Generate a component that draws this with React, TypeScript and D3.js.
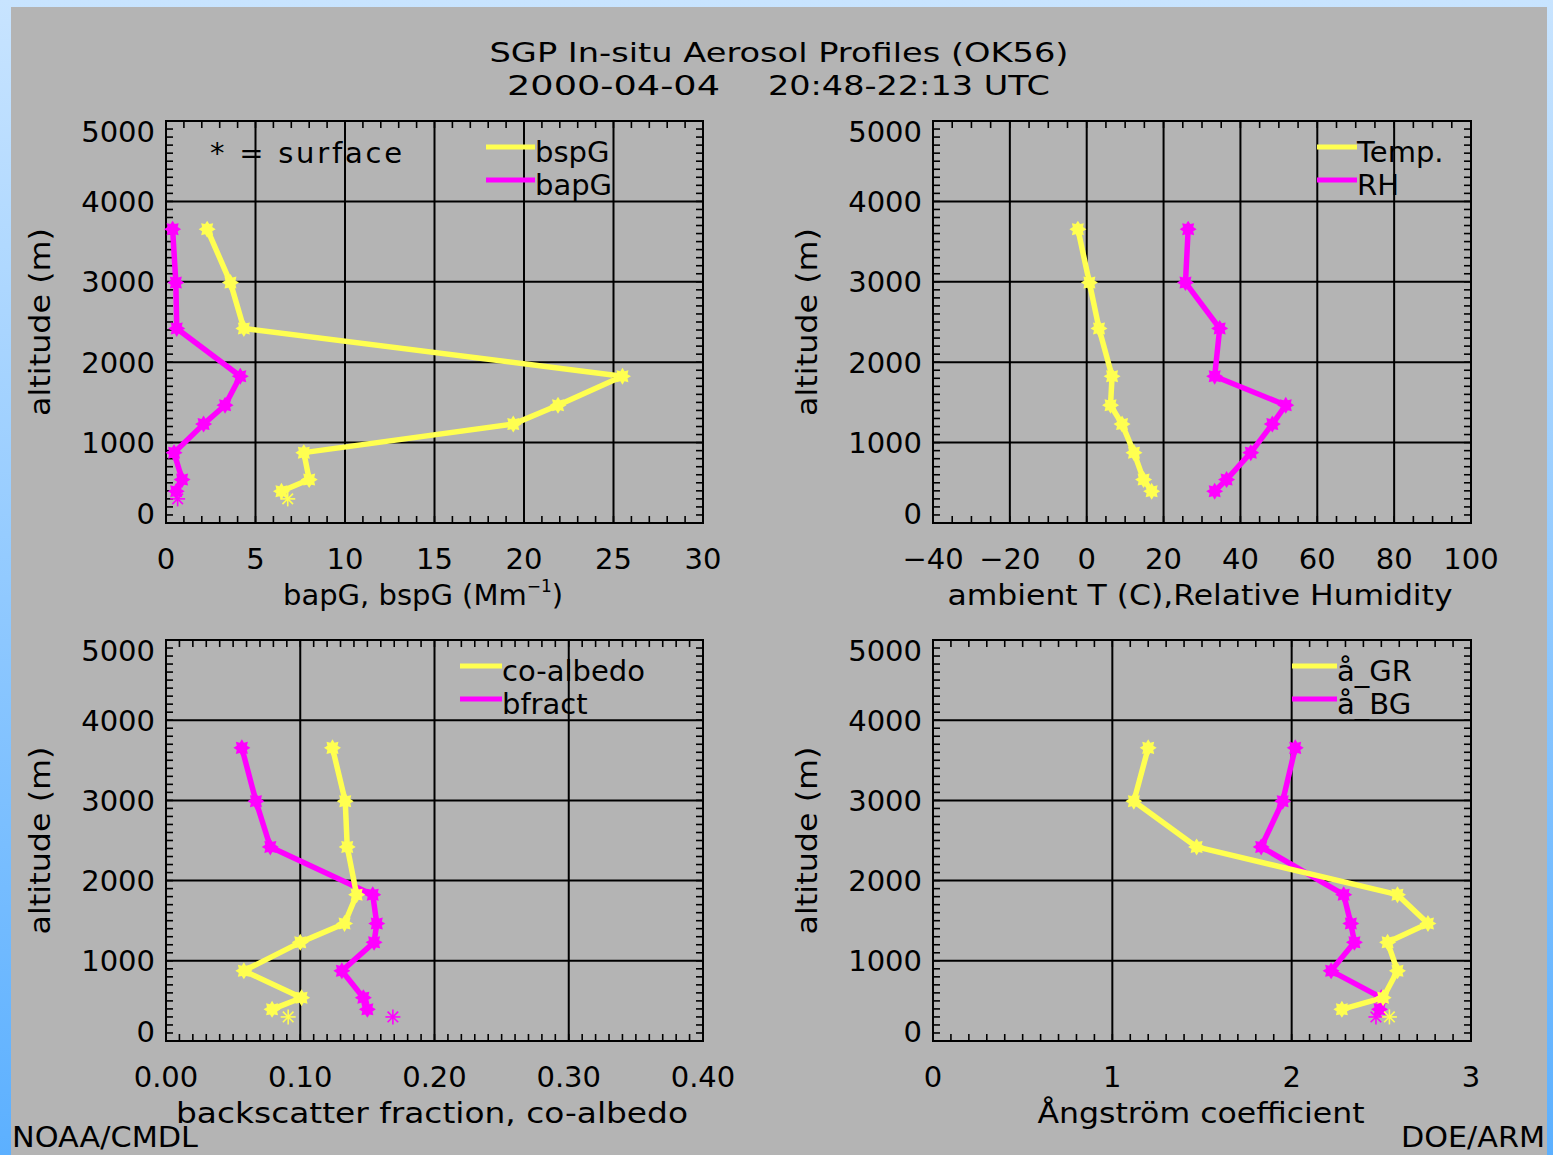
import React from "react";
import * as d3 from "d3";

// ---------- DATA ----------
const altitudes = [3655, 2990, 2420, 1825, 1465, 1230, 875, 540, 395];
const surfaceAltitude = 300;

const bspG = [2.3, 3.6, 4.35, 25.5, 21.9, 19.4, 7.7, 8.0, 6.45];
const bspGSurface = 6.8;
const bapG = [0.37, 0.55, 0.6, 4.15, 3.3, 2.1, 0.45, 0.9, 0.57];
const bapGSurface = 0.65;

const tempC = [-2.3, 0.7, 3.2, 6.6, 6.2, 9.2, 12.3, 14.8, 16.9];
const relHum = [26.4, 25.7, 34.6, 33.3, 51.8, 48.3, 42.7, 36.4, 33.3];

const coAlbedo = [0.124, 0.1335, 0.135, 0.142, 0.133, 0.1, 0.058, 0.101, 0.079];
const coAlbedoSurface = 0.091;
const bfract = [0.0565, 0.067, 0.0777, 0.154, 0.157, 0.155, 0.131, 0.147, 0.15];
const bfractSurface = 0.169;

const angGR = [1.2, 1.12, 1.47, 2.59, 2.76, 2.535, 2.59, 2.51, 2.28];
const angGRSurface = 2.545;
const angBG = [2.02, 1.95, 1.83, 2.29, 2.33, 2.35, 2.22, 2.5, 2.49];
const angBGSurface = 2.47;

const altTicks = [0, 1000, 2000, 3000, 4000, 5000];
const altTickLabels = ["0", "1000", "2000", "3000", "4000", "5000"];

const p1Ticks = [0, 5, 10, 15, 20, 25, 30];
const p1TickLabels = ["0", "5", "10", "15", "20", "25", "30"];
const p2Ticks = [-40, -20, 0, 20, 40, 60, 80, 100];
const p2TickLabels = ["\u221240", "\u221220", "0", "20", "40", "60", "80", "100"];
const p3Ticks = [0, 0.1, 0.2, 0.3, 0.4];
const p3TickLabels = ["0.00", "0.10", "0.20", "0.30", "0.40"];
const p4Ticks = [0, 1, 2, 3];
const p4TickLabels = ["0", "1", "2", "3"];

const titleLine1 = "SGP In-situ Aerosol Profiles (OK56)";
const titleDate = "2000-04-04";
const titleTime = "20:48-22:13 UTC";

// ---------- STYLE ----------
const W = 1553;
const H = 1155;
const FONT = "'DejaVu Sans', 'Liberation Sans', sans-serif";
const FS = 29;
const CAP = 21;
const YELLOW = "#ffff50";
const MAGENTA = "#ff00ff";
const GRAY = "#b4b4b4";

type Series = {
  values: number[];
  surface?: number;
  color: string;
  label: string;
};

type PanelSpec = {
  x0: number;
  x1: number;
  y0: number;
  y1: number;
  domain: [number, number];
  ticks: number[];
  tickLabels: string[];
  minorStep: number;
  xTitle: React.ReactNode;
  series: Series[]; // legend order
  legendX: number;
  legendY: number;
  legendLen: number;
  extra?: React.ReactNode;
};

function starPath(r1: number, r2: number, n = 8) {
  const pts: string[] = [];
  for (let i = 0; i < 2 * n; i++) {
    const a = (i * Math.PI) / n;
    const r = i % 2 === 0 ? r1 : r2;
    pts.push(`${(r * Math.cos(a)).toFixed(2)},${(r * Math.sin(a)).toFixed(2)}`);
  }
  return "M" + pts.join("L") + "Z";
}
const STAR = starPath(8.5, 5.5);

function Asterisk({ cx, cy, color }: { cx: number; cy: number; color: string }) {
  const r = 7.5;
  const segs = d3.range(4).map((i) => {
    const a = (i * Math.PI) / 4;
    return (
      <line
        key={i}
        x1={cx - r * Math.cos(a)}
        y1={cy - r * Math.sin(a)}
        x2={cx + r * Math.cos(a)}
        y2={cy + r * Math.sin(a)}
        stroke={color}
        strokeWidth={1.6}
      />
    );
  });
  return <g>{segs}</g>;
}

function Panel({ spec }: { spec: PanelSpec }) {
  const { x0, x1, y0, y1 } = spec;
  const x = d3.scaleLinear().domain(spec.domain).range([x0, x1]);
  const y = d3.scaleLinear().domain([0, 5000]).range([y1, y0]);
  const line = d3
    .line<[number, number]>()
    .x((d) => x(d[0]))
    .y((d) => y(d[1]));

  const nMinor = Math.round((spec.domain[1] - spec.domain[0]) / spec.minorStep);
  const xMinor = d3.range(nMinor + 1).map((i) => spec.domain[0] + i * spec.minorStep);
  const yMinor = d3.range(51).map((i) => i * 100);
  const tl = 7;

  const drawOrder = [...spec.series].reverse(); // magenta under yellow

  return (
    <g>
      {/* grid */}
      {spec.ticks.map((t, i) => (
        <line key={"gx" + i} x1={x(t)} x2={x(t)} y1={y0} y2={y1} stroke="#000" strokeWidth={2} />
      ))}
      {altTicks.map((t, i) => (
        <line key={"gy" + i} x1={x0} x2={x1} y1={y(t)} y2={y(t)} stroke="#000" strokeWidth={2} />
      ))}
      {/* minor ticks */}
      {xMinor.map((t, i) => (
        <g key={"mx" + i}>
          <line x1={x(t)} x2={x(t)} y1={y1} y2={y1 - tl} stroke="#000" strokeWidth={1.6} />
          <line x1={x(t)} x2={x(t)} y1={y0} y2={y0 + tl} stroke="#000" strokeWidth={1.6} />
        </g>
      ))}
      {yMinor.map((t, i) => (
        <g key={"my" + i}>
          <line x1={x0} x2={x0 + tl} y1={y(t)} y2={y(t)} stroke="#000" strokeWidth={1.6} />
          <line x1={x1} x2={x1 - tl} y1={y(t)} y2={y(t)} stroke="#000" strokeWidth={1.6} />
        </g>
      ))}
      <rect x={x0} y={y0} width={x1 - x0} height={y1 - y0} fill="none" stroke="#000" strokeWidth={2} />

      {/* tick labels */}
      {altTicks.map((t, i) => {
        const cy = Math.min(Math.max(y(t), y0 + 10), y1 - 10);
        return (
          <text key={"yl" + i} x={x0 - 11} y={cy + CAP / 2} textAnchor="end" fontSize={FS} fontFamily={FONT}>
            {altTickLabels[i]}
          </text>
        );
      })}
      {spec.ticks.map((t, i) => (
        <text key={"xl" + i} x={x(t)} y={y1 + 46} textAnchor="middle" fontSize={FS} fontFamily={FONT}>
          {spec.tickLabels[i]}
        </text>
      ))}

      {/* axis titles */}
      <text
        x={x0 - 116}
        y={(y0 + y1) / 2}
        transform={`rotate(-90 ${x0 - 116} ${(y0 + y1) / 2})`}
        textAnchor="middle"
        fontSize={FS}
        fontFamily={FONT}
        textLength={188}
        lengthAdjust="spacingAndGlyphs"
      >
        altitude (m)
      </text>
      {spec.xTitle}

      {/* data */}
      {drawOrder.map((s, si) => {
        const pts: [number, number][] = s.values.map((v, i) => [v, altitudes[i]]);
        return (
          <g key={"s" + si}>
            <path d={line(pts) || ""} fill="none" stroke={s.color} strokeWidth={5.5} strokeLinejoin="round" />
            {pts.map((p, i) => (
              <path key={i} d={STAR} transform={`translate(${x(p[0])},${y(p[1])})`} fill={s.color} />
            ))}
          </g>
        );
      })}
      {drawOrder.map((s, si) =>
        s.surface !== undefined ? (
          <Asterisk key={"a" + si} cx={x(s.surface)} cy={y(surfaceAltitude)} color={s.color} />
        ) : null
      )}

      {/* legend */}
      {spec.series.map((s, i) => {
        const ly = spec.legendY + i * 33;
        return (
          <g key={"lg" + i}>
            <line
              x1={spec.legendX}
              x2={spec.legendX + spec.legendLen}
              y1={ly}
              y2={ly}
              stroke={s.color}
              strokeWidth={5}
            />
            <text x={spec.legendX + spec.legendLen} y={ly + 15} fontSize={FS} fontFamily={FONT}>
              {s.label}
            </text>
          </g>
        );
      })}
      {spec.extra}
    </g>
  );
}

export default function App() {
  const top0 = 121,
    top1 = 523,
    bot0 = 640,
    bot1 = 1041;
  const L0 = 166,
    L1 = 703,
    R0 = 933,
    R1 = 1471;

  const panels: PanelSpec[] = [
    {
      x0: L0,
      x1: L1,
      y0: top0,
      y1: top1,
      domain: [0, 30],
      ticks: p1Ticks,
      tickLabels: p1TickLabels,
      minorStep: 1,
      xTitle: (
        <text x={283} y={top1 + 82} fontSize={FS} fontFamily={FONT}>
          bapG, bspG (Mm
          <tspan fontSize={17} dy={-13}>
            {"\u22121"}
          </tspan>
          <tspan dy={13}>)</tspan>
        </text>
      ),
      series: [
        { values: bspG, surface: bspGSurface, color: YELLOW, label: "bspG" },
        { values: bapG, surface: bapGSurface, color: MAGENTA, label: "bapG" },
      ],
      legendX: 486,
      legendY: 147,
      legendLen: 49,
      extra: (
        <text x={210} y={163} fontSize={FS} fontFamily={FONT} textLength={192} lengthAdjust="spacing">
          * = surface
        </text>
      ),
    },
    {
      x0: R0,
      x1: R1,
      y0: top0,
      y1: top1,
      domain: [-40, 100],
      ticks: p2Ticks,
      tickLabels: p2TickLabels,
      minorStep: 5,
      xTitle: (
        <text
          x={1200}
          y={top1 + 82}
          textAnchor="middle"
          fontSize={FS}
          fontFamily={FONT}
          textLength={505}
          lengthAdjust="spacingAndGlyphs"
        >
          ambient T (C),Relative Humidity
        </text>
      ),
      series: [
        { values: tempC, color: YELLOW, label: "Temp." },
        { values: relHum, color: MAGENTA, label: "RH" },
      ],
      legendX: 1317,
      legendY: 147,
      legendLen: 40,
    },
    {
      x0: L0,
      x1: L1,
      y0: bot0,
      y1: bot1,
      domain: [0, 0.4],
      ticks: p3Ticks,
      tickLabels: p3TickLabels,
      minorStep: 0.01,
      xTitle: (
        <text
          x={432}
          y={bot1 + 82}
          textAnchor="middle"
          fontSize={FS}
          fontFamily={FONT}
          textLength={512}
          lengthAdjust="spacingAndGlyphs"
        >
          backscatter fraction, co-albedo
        </text>
      ),
      series: [
        { values: coAlbedo, surface: coAlbedoSurface, color: YELLOW, label: "co-albedo" },
        { values: bfract, surface: bfractSurface, color: MAGENTA, label: "bfract" },
      ],
      legendX: 460,
      legendY: 666,
      legendLen: 42,
    },
    {
      x0: R0,
      x1: R1,
      y0: bot0,
      y1: bot1,
      domain: [0, 3],
      ticks: p4Ticks,
      tickLabels: p4TickLabels,
      minorStep: 0.1,
      xTitle: (
        <text
          x={1201}
          y={bot1 + 82}
          textAnchor="middle"
          fontSize={FS}
          fontFamily={FONT}
          textLength={327}
          lengthAdjust="spacingAndGlyphs"
        >
          Ångström coefficient
        </text>
      ),
      series: [
        { values: angGR, surface: angGRSurface, color: YELLOW, label: "å_GR" },
        { values: angBG, surface: angBGSurface, color: MAGENTA, label: "å_BG" },
      ],
      legendX: 1292,
      legendY: 666,
      legendLen: 45,
    },
  ];

  return (
    <>
      <style>{"body{margin:0;padding:0;overflow:hidden;}"}</style>
      <svg width={W} height={H} style={{ display: "block" }}>
        <defs>
          <linearGradient id="bg" x1="0" y1="0" x2="0" y2="1">
            <stop offset="0" stopColor="#c8e4ff" />
            <stop offset="1" stopColor="#5cb0ff" />
          </linearGradient>
        </defs>
        <rect x={0} y={0} width={W} height={H} fill="url(#bg)" />
        <rect x={11} y={7} width={1536} height={H - 7} fill={GRAY} />

        <text
          x={779}
          y={62}
          textAnchor="middle"
          fontSize={27}
          fontFamily={FONT}
          textLength={579}
          lengthAdjust="spacingAndGlyphs"
        >
          {titleLine1}
        </text>
        <text x={507} y={95} fontSize={27} fontFamily={FONT} textLength={213} lengthAdjust="spacingAndGlyphs">
          {titleDate}
        </text>
        <text x={768} y={95} fontSize={27} fontFamily={FONT} textLength={282} lengthAdjust="spacingAndGlyphs">
          {titleTime}
        </text>

        {panels.map((p, i) => (
          <Panel key={i} spec={p} />
        ))}

        <text x={12} y={1147} fontSize={FS} fontFamily={FONT} textLength={186} lengthAdjust="spacingAndGlyphs">
          NOAA/CMDL
        </text>
        <text
          x={1545}
          y={1147}
          textAnchor="end"
          fontSize={FS}
          fontFamily={FONT}
          textLength={144}
          lengthAdjust="spacingAndGlyphs"
        >
          DOE/ARM
        </text>
      </svg>
    </>
  );
}
